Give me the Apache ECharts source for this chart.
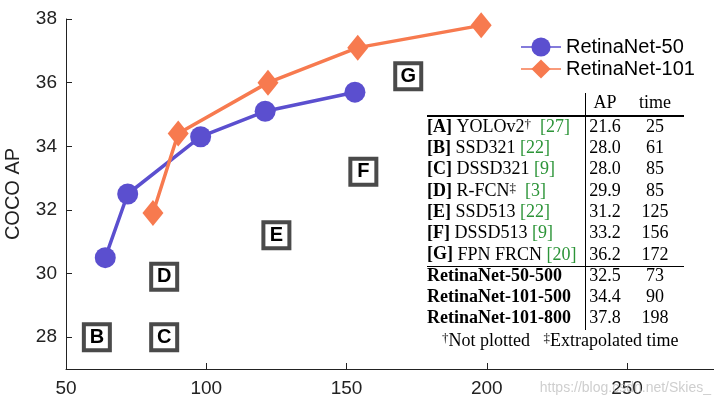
<!DOCTYPE html>
<html>
<head>
<meta charset="utf-8">
<script src="https://cdn.jsdelivr.net/npm/echarts@6/dist/echarts.min.js"></script>
<style>html,body{margin:0;padding:0;background:#fff}#c{width:714px;height:403px}</style>
</head>
<body>
<div id="c"></div>
<script>
// ---- data ----
const r50Time = [64, 72, 98, 121, 153];
const r50AP   = [30.5, 32.5, 34.3, 35.1, 35.7];
const r101Time = [81, 90, 122, 154, 198];
const r101AP   = [31.9, 34.4, 36.0, 37.1, 37.8];

const tableLetters = ['A', 'B', 'C', 'D', 'E', 'F', 'G'];
const tableNames   = ['YOLOv2', 'SSD321', 'DSSD321', 'R-FCN', 'SSD513', 'DSSD513', 'FPN FRCN'];
const tableMarks   = ['\u2020', '', '', '\u2021', '', '', ''];
const tableRefs    = ['27', '22', '9', '3', '22', '9', '20'];
const tableAP      = [21.6, 28.0, 28.0, 29.9, 31.2, 33.2, 36.2];
const tableTime    = [25, 61, 85, 85, 125, 156, 172];
const tablePlotted = [false, true, true, true, true, true, true];

const retinaRows = ['RetinaNet-50-500', 'RetinaNet-101-500', 'RetinaNet-101-800'];
const retinaAP   = [32.5, 34.4, 37.8];
const retinaTime = [73, 90, 198];

const xTicks = [50, 100, 150, 200, 250];
const yTicks = [28, 30, 32, 34, 36, 38];

// ---- chart ----
const BLUE = '#5b4fcf';
const ORANGE = '#f77a4f';
const SANS = '"Liberation Sans", Arial, Helvetica, sans-serif';
const SERIF = '"Liberation Serif", "Times New Roman", serif';

const boxData = [];
tableLetters.forEach((l, i) => {
  if (tablePlotted[i]) boxData.push([tableTime[i], tableAP[i], l]);
});

const serif = { fontFamily: SERIF, fontSize: 18, fill: '#000' };
const rich = {
  b: { fontFamily: SERIF, fontSize: 18, fontWeight: 'bold', fill: '#000' },
  n: { fontFamily: SERIF, fontSize: 18, fill: '#000' },
  s: { fontFamily: SERIF, fontSize: 13, fill: '#000', verticalAlign: 'top', lineHeight: 18 },
  g: { fontFamily: SERIF, fontSize: 18, fill: '#2c9438' }
};

const graphics = [];
const rowY = i => 127 + i * 21.3;
const xAP = 605, xTime = 655, xLeft = 427;

graphics.push({ type: 'text', style: Object.assign({ x: xAP, y: 103, text: 'AP', align: 'center', verticalAlign: 'middle' }, serif) });
graphics.push({ type: 'text', style: Object.assign({ x: xTime, y: 103, text: 'time', align: 'center', verticalAlign: 'middle' }, serif) });

tableLetters.forEach((l, i) => {
  const txt = '{b|[' + l + ']}{n| ' + tableNames[i] + '}' + (tableMarks[i] ? '{s|' + tableMarks[i] + '}{n|  }' : '{n| }') + '{g|[' + tableRefs[i] + ']}';
  graphics.push({ type: 'text', style: { x: xLeft, y: rowY(i), text: txt, rich: rich, align: 'left', verticalAlign: 'middle' } });
  graphics.push({ type: 'text', style: Object.assign({ x: xAP, y: rowY(i), text: tableAP[i].toFixed(1), align: 'center', verticalAlign: 'middle' }, serif) });
  graphics.push({ type: 'text', style: Object.assign({ x: xTime, y: rowY(i), text: String(tableTime[i]), align: 'center', verticalAlign: 'middle' }, serif) });
});
retinaRows.forEach((r, j) => {
  const i = 7 + j;
  graphics.push({ type: 'text', style: Object.assign({ x: xLeft, y: rowY(i), text: r, align: 'left', verticalAlign: 'middle', fontWeight: 'bold' }, serif) });
  graphics.push({ type: 'text', style: Object.assign({ x: xAP, y: rowY(i), text: retinaAP[j].toFixed(1), align: 'center', verticalAlign: 'middle' }, serif) });
  graphics.push({ type: 'text', style: Object.assign({ x: xTime, y: rowY(i), text: String(retinaTime[j]), align: 'center', verticalAlign: 'middle' }, serif) });
});
graphics.push({ type: 'text', style: { x: 442, y: 341, text: '{s|\u2020}{n|Not plotted   }{s|\u2021}{n|Extrapolated time}', rich: rich, align: 'left', verticalAlign: 'middle' } });

graphics.push({ type: 'line', shape: { x1: 427, y1: 116, x2: 684, y2: 116 }, style: { stroke: '#000', lineWidth: 2 } });
graphics.push({ type: 'line', shape: { x1: 427, y1: 266.5, x2: 684, y2: 266.5 }, style: { stroke: '#000', lineWidth: 1 } });
graphics.push({ type: 'line', shape: { x1: 585.5, y1: 93, x2: 585.5, y2: 330 }, style: { stroke: '#000', lineWidth: 1 } });

graphics.push({ type: 'text', style: { x: 711, y: 388, text: 'https://blog.csdn.net/Skies_', align: 'right', verticalAlign: 'middle', fontFamily: SANS, fontSize: 14, fill: 'rgba(190,190,190,0.75)' }, z: 100 });

const chart = echarts.init(document.getElementById('c'), null, { renderer: 'canvas' });
chart.setOption({
  animation: false,
  backgroundColor: '#fff',
  grid: { left: 66, right: 0, top: 19, bottom: 34, containLabel: false, outerBoundsMode: 'none' },
  xAxis: {
    type: 'value', min: 50, max: 281,
    axisLine: { lineStyle: { color: '#222', width: 1 } },
    axisTick: { inside: true, length: 6, lineStyle: { color: '#222' }, customValues: xTicks },
    axisLabel: { customValues: xTicks, color: '#222', fontSize: 19, fontFamily: SANS, margin: 10 },
    splitLine: { show: false }
  },
  yAxis: {
    type: 'value', min: 27, max: 38,
    name: 'COCO AP', nameLocation: 'middle', nameGap: 43,
    nameTextStyle: { color: '#222', fontSize: 20, fontFamily: SANS },
    axisLine: { show: true, lineStyle: { color: '#222', width: 1 } },
    axisTick: { show: true, inside: true, length: 6, lineStyle: { color: '#222' }, customValues: yTicks },
    axisLabel: { customValues: yTicks, color: '#222', fontSize: 19, fontFamily: SANS, margin: 9 },
    splitLine: { show: false }
  },
  legend: {
    orient: 'vertical', left: 520, top: 37, padding: 0,
    itemWidth: 40, itemHeight: 24, itemGap: 2,
    data: ['RetinaNet-50', 'RetinaNet-101'],
    textStyle: { fontSize: 20, fontFamily: SANS, color: '#000' },
    lineStyle: { width: 2, opacity: 0.75 }
  },
  graphic: graphics,
  series: [
    {
      name: 'RetinaNet-50', type: 'line',
      data: r50Time.map((t, i) => [t, r50AP[i]]),
      symbol: 'circle', symbolSize: 21,
      lineStyle: { color: BLUE, width: 3.5 },
      itemStyle: { color: BLUE, borderWidth: 0 },
      z: 3
    },
    {
      name: 'RetinaNet-101', type: 'line',
      data: r101Time.map((t, i) => [t, r101AP[i]]),
      symbol: 'diamond', symbolSize: [21, 26],
      lineStyle: { color: ORANGE, width: 3.5 },
      itemStyle: { color: ORANGE, borderWidth: 0 },
      z: 4
    },
    {
      name: 'methods', type: 'scatter',
      data: boxData,
      symbol: 'rect', symbolSize: 26,
      itemStyle: { color: '#fff', borderColor: '#4a4a4a', borderWidth: 4, opacity: 1 },
      label: {
        show: true, position: 'inside', formatter: p => p.data[2],
        color: '#000', fontSize: 20, fontWeight: 'bold', fontFamily: SANS
      },
      z: 2
    }
  ]
});
</script>
</body>
</html>
